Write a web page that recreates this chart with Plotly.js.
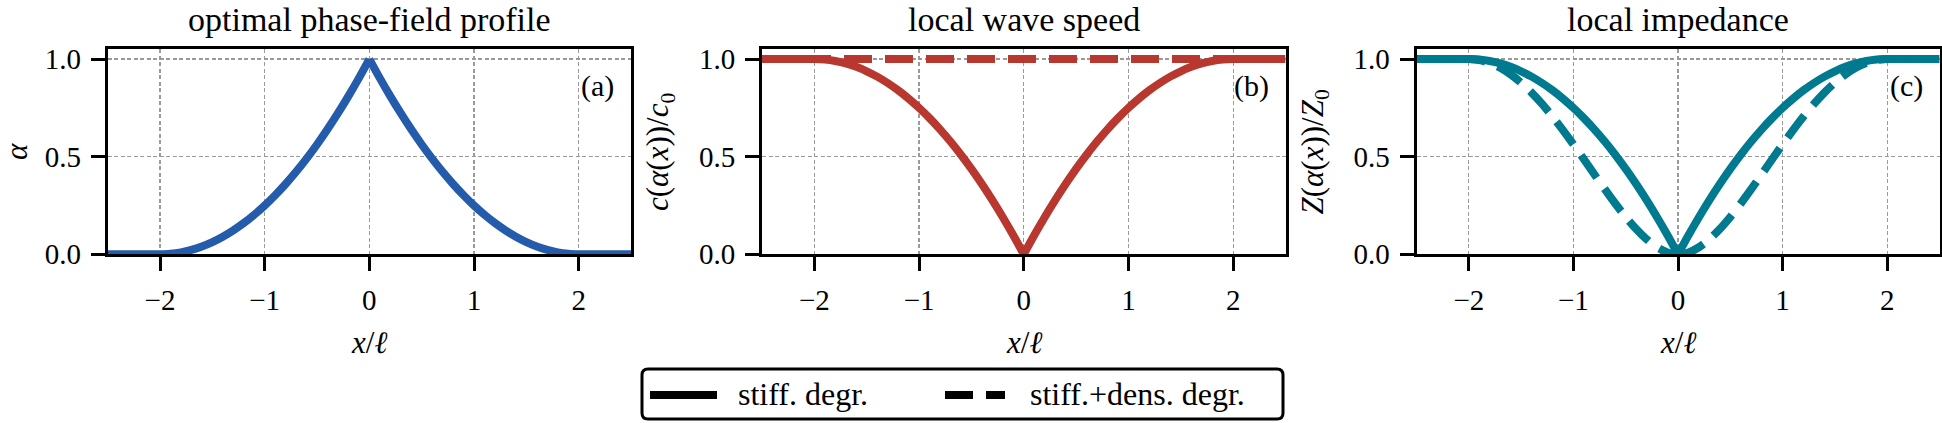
<!DOCTYPE html>
<html>
<head>
<meta charset="utf-8">
<script src="https://cdn.plot.ly/plotly-3.0.1.min.js"></script>
<style>
  html, body { margin: 0; padding: 0; background: #fff; }
  #fig { width: 1942px; height: 423px; }
</style>
</head>
<body>
<div id="fig"></div>
<script>
// Position along the bar, x / ell
const xPos = [-2.5, -2.4, -2.3, -2.2, -2.1, -2.0, -1.9, -1.8, -1.7, -1.6, -1.5, -1.4, -1.3, -1.2, -1.1,
  -1.0, -0.9, -0.8, -0.7, -0.6, -0.5, -0.4, -0.3, -0.2, -0.1, 0.0, 0.1, 0.2, 0.3, 0.4, 0.5, 0.6, 0.7,
  0.8, 0.9, 1.0, 1.1, 1.2, 1.3, 1.4, 1.5, 1.6, 1.7, 1.8, 1.9, 2.0, 2.1, 2.2, 2.3, 2.4, 2.5];

// (a) optimal phase-field profile alpha
const alphaProfile = [0, 0, 0, 0, 0, 0, 0.0025, 0.01, 0.0225, 0.04, 0.0625, 0.09, 0.1225, 0.16, 0.2025,
  0.25, 0.3025, 0.36, 0.4225, 0.49, 0.5625, 0.64, 0.7225, 0.81, 0.9025, 1.0, 0.9025, 0.81, 0.7225, 0.64,
  0.5625, 0.49, 0.4225, 0.36, 0.3025, 0.25, 0.2025, 0.16, 0.1225, 0.09, 0.0625, 0.04, 0.0225, 0.01,
  0.0025, 0, 0, 0, 0, 0, 0];

// (b) local wave speed c / c0
const speedStiff = [1, 1, 1, 1, 1, 1, 0.9975, 0.99, 0.9775, 0.96, 0.9375, 0.91, 0.8775, 0.84, 0.7975,
  0.75, 0.6975, 0.64, 0.5775, 0.51, 0.4375, 0.36, 0.2775, 0.19, 0.0975, 0.0, 0.0975, 0.19, 0.2775, 0.36,
  0.4375, 0.51, 0.5775, 0.64, 0.6975, 0.75, 0.7975, 0.84, 0.8775, 0.91, 0.9375, 0.96, 0.9775, 0.99,
  0.9975, 1, 1, 1, 1, 1, 1];
const xFlat = [-2.5, 2.5];
const speedStiffDens = [1, 1];

// (c) local impedance Z / Z0
const impedanceStiff = [1, 1, 1, 1, 1, 1, 0.9975, 0.99, 0.9775, 0.96, 0.9375, 0.91, 0.8775, 0.84, 0.7975,
  0.75, 0.6975, 0.64, 0.5775, 0.51, 0.4375, 0.36, 0.2775, 0.19, 0.0975, 0.0, 0.0975, 0.19, 0.2775, 0.36,
  0.4375, 0.51, 0.5775, 0.64, 0.6975, 0.75, 0.7975, 0.84, 0.8775, 0.91, 0.9375, 0.96, 0.9775, 0.99,
  0.9975, 1, 1, 1, 1, 1, 1];
const impedanceStiffDens = [1, 1, 1, 1, 1, 1, 0.995, 0.9801, 0.9555, 0.9216, 0.8789, 0.8281, 0.77, 0.7056,
  0.636, 0.5625, 0.4865, 0.4096, 0.3335, 0.2601, 0.1914, 0.1296, 0.077, 0.0361, 0.0095, 0.0, 0.0095,
  0.0361, 0.077, 0.1296, 0.1914, 0.2601, 0.3335, 0.4096, 0.4865, 0.5625, 0.636, 0.7056, 0.77, 0.8281,
  0.8789, 0.9216, 0.9555, 0.9801, 0.995, 1, 1, 1, 1, 1, 1];

// Tick labels and texts
const xTickVals = [-2, -1, 0, 1, 2];
const yTickVals = [0, 0.5, 1.0];
const panelTitles = ['optimal phase-field profile', 'local wave speed', 'local impedance'];
const panelTags = ['(a)', '(b)', '(c)'];
const yLabels = ['<i>α</i>', '<i>c</i>(<i>α</i>(<i>x</i>))/<i>c</i><sub>0</sub>',
  '<i>Z</i>(<i>α</i>(<i>x</i>))/<i>Z</i><sub>0</sub>'];
const xLabel = '<i>x</i>/<i>ℓ</i>';
const legendLabels = ['stiff. degr.', 'stiff.+dens. degr.'];

// ---- geometry helpers (pixel -> paper) ----
const W = 1942, H = 423;
const fx = p => p / W;
const fy = p => 1 - p / H;

const FONT = 'Liberation Serif';
const BLUE = '#245bab', RED = '#b8372e', TEAL = '#007a8f';
const LW = 8;
const DASH = '28px,13px';

// plot areas in pixels: [left, right]
const panels = [[107.7, 631], [762, 1285.5], [1416.5, 1939.5]];
const plotTop = 49.3, plotBottom = 254.3;

function axisStyle() {
  return {
    showline: true, linewidth: 3, linecolor: '#000', mirror: true,
    ticks: 'outside', ticklen: 14, tickwidth: 3, tickcolor: '#000',
    ticklabelstandoff: 4,
    showgrid: true, gridcolor: '#9a9a9a', gridwidth: 1.2, griddash: '4px,2.5px',
    zeroline: false,
    tickfont: { family: FONT, size: 29, color: '#000' },
    layer: 'above traces', fixedrange: true
  };
}
function xAxis(i) {
  return Object.assign(axisStyle(), {
    domain: [fx(panels[i][0]), fx(panels[i][1])],
    range: [-2.5, 2.5], tickvals: xTickVals,
    anchor: 'y' + (i ? i + 1 : '')
  });
}
function yAxis(i) {
  return Object.assign(axisStyle(), {
    domain: [fy(plotBottom), fy(plotTop)],
    range: [0, 1.05], tickvals: yTickVals, tickformat: '.1f',
    anchor: 'x' + (i ? i + 1 : '')
  });
}

// each curve is drawn as two smooth halves meeting at the cusp x = 0
const mid = xPos.indexOf(0);
function halves(xs, ys, axisIdx, color, dash) {
  const sfx = axisIdx ? String(axisIdx + 1) : '';
  const line = { color: color, width: LW, shape: 'spline', smoothing: 0.8 };
  if (dash) line.dash = dash;
  return [
    { x: xs.slice(0, mid + 1), y: ys.slice(0, mid + 1), xaxis: 'x' + sfx, yaxis: 'y' + sfx,
      mode: 'lines', line: line, hoverinfo: 'skip' },
    { x: xs.slice(mid), y: ys.slice(mid), xaxis: 'x' + sfx, yaxis: 'y' + sfx,
      mode: 'lines', line: line, hoverinfo: 'skip' }
  ];
}

const traces = [].concat(
  halves(xPos, alphaProfile, 0, BLUE),
  halves(xPos, speedStiff, 1, RED),
  [{ x: xFlat, y: speedStiffDens, xaxis: 'x2', yaxis: 'y2', mode: 'lines',
     line: { color: RED, width: LW, dash: DASH }, hoverinfo: 'skip' }],
  halves(xPos, impedanceStiff, 2, TEAL),
  halves(xPos, impedanceStiffDens, 2, TEAL, DASH)
);

const annotations = [];
panels.forEach((p, i) => {
  const cx = (p[0] + p[1]) / 2;
  annotations.push({ text: panelTitles[i], xref: 'paper', yref: 'paper', x: fx(cx), y: fy(20),
    xanchor: 'center', yanchor: 'middle', showarrow: false, font: { family: FONT, size: 34, color: '#000' } });
  annotations.push({ text: xLabel, xref: 'paper', yref: 'paper', x: fx(cx), y: fy(342),
    xanchor: 'center', yanchor: 'middle', showarrow: false, font: { family: FONT, size: 31, color: '#000' } });
  annotations.push({ text: yLabels[i], xref: 'paper', yref: 'paper', x: fx(Math.max(p[0] - 102, 16)), y: fy(152),
    xanchor: 'center', yanchor: 'middle', textangle: -90, showarrow: false,
    font: { family: FONT, size: 31, color: '#000' } });
  annotations.push({ text: panelTags[i], xref: 'paper', yref: 'paper', x: fx(p[1] - 15), y: fy(86),
    xanchor: 'right', yanchor: 'middle', showarrow: false, font: { family: FONT, size: 30, color: '#000' } });
});

// legend: rounded frame, line keys and labels
const lg = { l: 642, r: 1283, t: 369, b: 419, rad: 6, yMid: 395 };
function roundedRect(l, t, r, b, rad) {
  const X = fx, Y = fy;
  return `M${X(l + rad)},${Y(t)} L${X(r - rad)},${Y(t)} Q${X(r)},${Y(t)} ${X(r)},${Y(t + rad)} ` +
    `L${X(r)},${Y(b - rad)} Q${X(r)},${Y(b)} ${X(r - rad)},${Y(b)} L${X(l + rad)},${Y(b)} ` +
    `Q${X(l)},${Y(b)} ${X(l)},${Y(b - rad)} L${X(l)},${Y(t + rad)} Q${X(l)},${Y(t)} ${X(l + rad)},${Y(t)} Z`;
}
const shapes = [
  { type: 'path', xref: 'paper', yref: 'paper', path: roundedRect(lg.l, lg.t, lg.r, lg.b, lg.rad),
    line: { color: '#000', width: 3 }, fillcolor: '#fff' },
  { type: 'line', xref: 'paper', yref: 'paper', x0: fx(650), x1: fx(717), y0: fy(lg.yMid), y1: fy(lg.yMid),
    line: { color: '#000', width: LW } },
  { type: 'line', xref: 'paper', yref: 'paper', x0: fx(945), x1: fx(1005), y0: fy(lg.yMid), y1: fy(lg.yMid),
    line: { color: '#000', width: LW, dash: DASH } }
];
annotations.push({ text: legendLabels[0], xref: 'paper', yref: 'paper', x: fx(736), y: fy(lg.yMid - 1),
  xanchor: 'left', yanchor: 'middle', showarrow: false, font: { family: FONT, size: 32, color: '#000' } });
annotations.push({ text: legendLabels[1], xref: 'paper', yref: 'paper', x: fx(1028), y: fy(lg.yMid - 1),
  xanchor: 'left', yanchor: 'middle', showarrow: false, font: { family: FONT, size: 32, color: '#000' } });

const layout = {
  width: W, height: H,
  margin: { l: 0, r: 0, t: 0, b: 0 },
  paper_bgcolor: '#fff', plot_bgcolor: '#fff',
  showlegend: false,
  font: { family: FONT, color: '#000' },
  xaxis: xAxis(0), yaxis: yAxis(0),
  xaxis2: xAxis(1), yaxis2: yAxis(1),
  xaxis3: xAxis(2), yaxis3: yAxis(2),
  annotations: annotations,
  shapes: shapes
};

Plotly.newPlot('fig', traces, layout, { staticPlot: true, displayModeBar: false });
</script>
</body>
</html>
